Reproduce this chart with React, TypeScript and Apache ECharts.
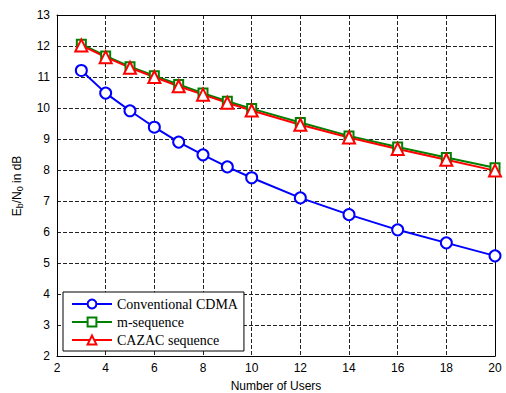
import React, { useEffect, useRef } from "react";
import * as echarts from "echarts";

const users = [3, 4, 5, 6, 7, 8, 9, 10, 12, 14, 16, 18, 20];
const conventional = [11.21, 10.48, 9.91, 9.38, 8.9, 8.49, 8.1, 7.75, 7.1, 6.56, 6.07, 5.65, 5.23];
const mSequence = [12.06, 11.68, 11.33, 11.04, 10.76, 10.48, 10.22, 9.98, 9.53, 9.1, 8.74, 8.4, 8.07];
const cazac = [12.02, 11.64, 11.3, 11.0, 10.7, 10.43, 10.17, 9.92, 9.46, 9.05, 8.68, 8.33, 7.98];
const seriesNames = ["Conventional CDMA", "m-sequence", "CAZAC sequence"];
const xTitle = "Number of Users";
const yTitle = "{n|E}{s|b}{n|/N}{s|0}{n| in dB}";

export default function App() {
  const ref = useRef<HTMLDivElement>(null);
  useEffect(() => {
    if (!ref.current) return;
    const chart = echarts.init(ref.current, undefined, { renderer: "svg" });
    const sans = "Liberation Sans, Arial, sans-serif";
    const mk = (vals: number[]) => users.map((u, i) => [u, vals[i]]);
    chart.setOption({
      animation: false,
      grid: { left: 57, right: 11, top: 15, bottom: 37 },
      legend: {
        orient: "vertical",
        left: 63,
        top: 292,
        width: 170,
        padding: [5, 6, 4, 8],
        itemGap: 4,
        itemWidth: 40,
        itemHeight: 11,
        borderColor: "#000",
        borderWidth: 1,
        backgroundColor: "#fff",
        textStyle: { fontFamily: "Liberation Serif, Times New Roman, serif", fontSize: 14, color: "#000" },
        data: seriesNames,
      },
      graphic: [
        {
          type: "text",
          x: 276,
          y: 386,
          style: {
            text: xTitle,
            fill: "#000",
            fontFamily: sans,
            fontSize: 12,
            textAlign: "center",
            textVerticalAlign: "middle",
          },
        },
        {
          type: "text",
          x: 17,
          y: 186,
          rotation: Math.PI / 2,
          style: {
            text: yTitle,
            fill: "#000",
            fontFamily: sans,
            fontSize: 12,
            textAlign: "center",
            textVerticalAlign: "middle",
            rich: {
              n: { fontFamily: sans, fontSize: 12, fill: "#000", lineHeight: 15, verticalAlign: "middle" },
              s: { fontFamily: sans, fontSize: 9, fill: "#000", lineHeight: 15, verticalAlign: "bottom", padding: [7, 0, 0, 0] },
            },
          },
        },
      ],
      xAxis: [
        {
          type: "value",
          min: 2,
          max: 20,
          interval: 2,
          axisLine: { show: true, lineStyle: { color: "#000" } },
          axisTick: { show: false },
          axisLabel: { fontFamily: sans, fontSize: 12, color: "#000", margin: 6 },
          splitLine: { show: true, lineStyle: { color: "#222", type: "dashed" } },
        },
        {
          type: "value",
          position: "top",
          min: 2,
          max: 20,
          interval: 2,
          axisLine: { show: true, lineStyle: { color: "#000" } },
          axisTick: { show: false },
          axisLabel: { show: false },
          splitLine: { show: false },
        },
      ],
      yAxis: [
        {
          type: "value",
          min: 2,
          max: 13,
          interval: 1,
          axisLine: { show: true, lineStyle: { color: "#000" } },
          axisTick: { show: false },
          axisLabel: { fontFamily: sans, fontSize: 12, color: "#000", margin: 7 },
          splitLine: { show: true, lineStyle: { color: "#222", type: "dashed" } },
        },
        {
          type: "value",
          position: "right",
          min: 2,
          max: 13,
          interval: 1,
          axisLine: { show: true, lineStyle: { color: "#000" } },
          axisTick: { show: false },
          axisLabel: { show: false },
          splitLine: { show: false },
        },
      ],
      series: [
        {
          name: seriesNames[0],
          type: "line",
          data: mk(conventional),
          symbol: "emptyCircle",
          symbolSize: 11,
          color: "#0000ff",
          lineStyle: { color: "#0000ff", width: 2 },
          itemStyle: { color: "#0000ff", borderColor: "#0000ff", borderWidth: 2 },
        },
        {
          name: seriesNames[1],
          type: "line",
          data: mk(mSequence),
          symbol: "emptyRect",
          symbolSize: 9,
          color: "#008000",
          lineStyle: { color: "#008000", width: 2 },
          itemStyle: { color: "#008000", borderColor: "#008000", borderWidth: 2 },
        },
        {
          name: seriesNames[2],
          type: "line",
          data: mk(cazac),
          symbol: "emptyTriangle",
          symbolSize: 12,
          color: "#ff0000",
          lineStyle: { color: "#ff0000", width: 2 },
          itemStyle: { color: "#ff0000", borderColor: "#ff0000", borderWidth: 2 },
        },
      ],
    });
    return () => chart.dispose();
  }, []);
  return <div ref={ref} style={{ width: 506, height: 393, position: "absolute", left: 0, top: 0 }} />;
}
